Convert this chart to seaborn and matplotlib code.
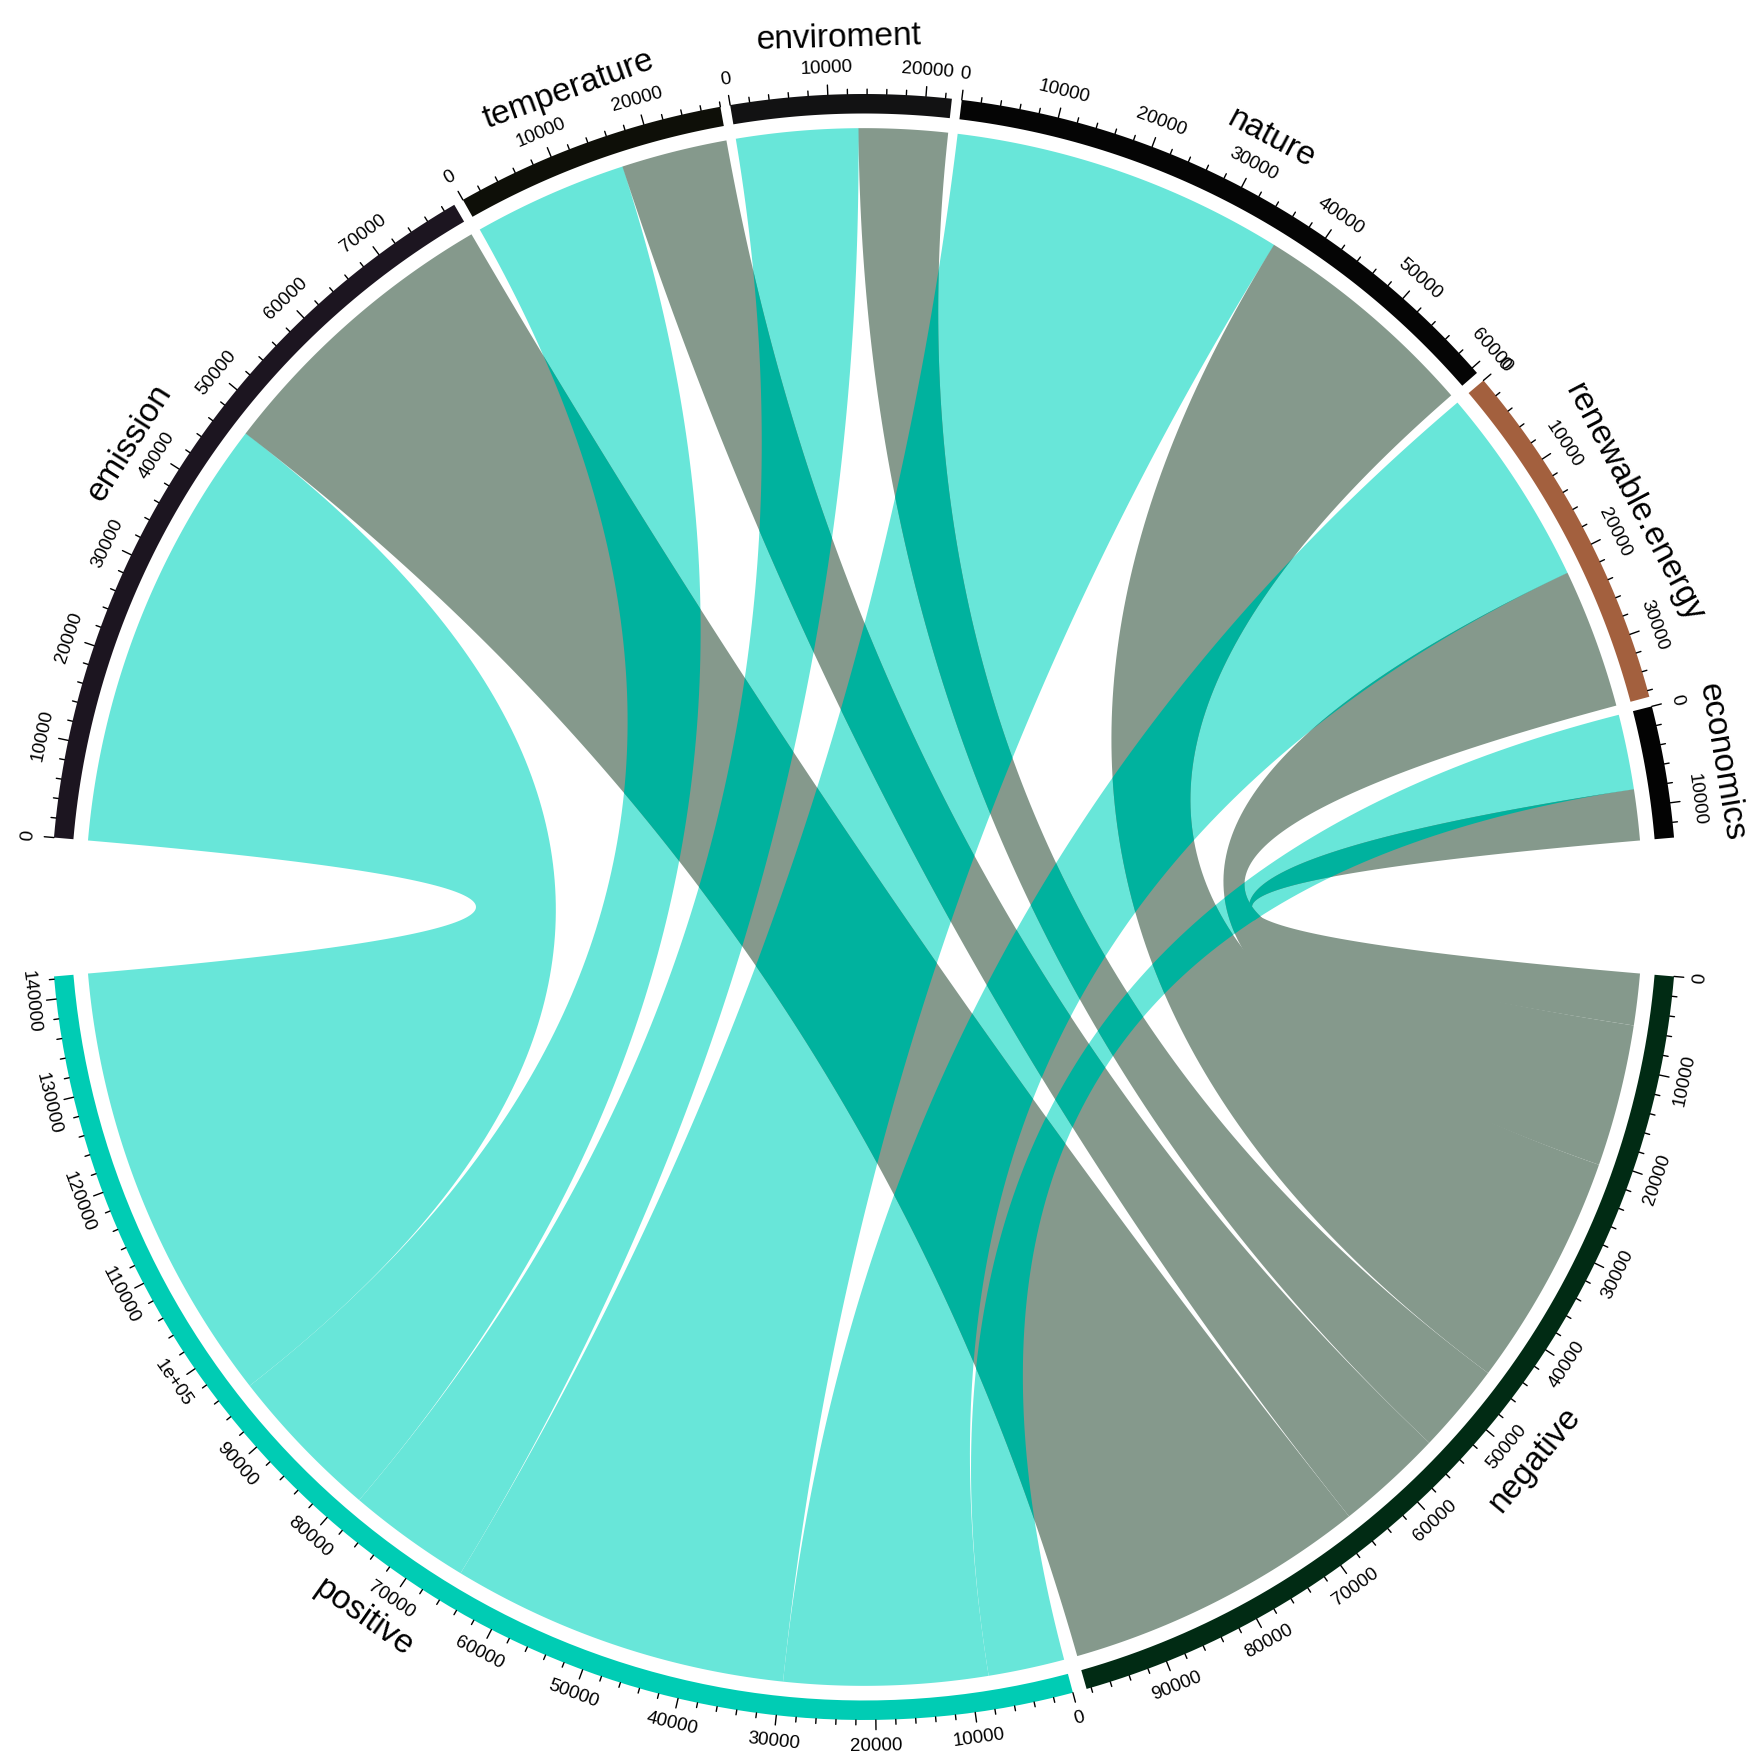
import numpy as np
import matplotlib

matplotlib.use("Agg")
import matplotlib.pyplot as plt
import seaborn as sns
from matplotlib.patches import Polygon

# sectors on the upper half (rows) and their link widths
topics = ["emission", "temperature", "enviroment", "nature", "renewable.energy", "economics"]
positive_vals = [47000, 16600, 13100, 35900, 21600, 8080]
negative_vals = [32200, 11400, 9550, 24800, 15050, 5480]
topic_colors = ["#1C1520", "#0E0F08", "#121213", "#050505", "#A3603E", "#030303"]

# sectors on the lower half
targets = ["negative", "positive"]
target_colors = ["#012B14", "#00CCB4"]

link_pos_color = "#68E6D9"
link_neg_color = "#85998C"
overlap_color = "#00B29E"

sns.set_theme(style="white")
plt.rcParams["font.family"] = ["Liberation Sans", "DejaVu Sans"]

BIG_GAP = 9.8
GAP_TOP = 0.7
GAP_BOT = 1.0
R_OUT, R_IN, R_LINK = 1.0, 0.976, 0.958

total = sum(positive_vals) + sum(negative_vals)
k_top = (180 - BIG_GAP - GAP_TOP * (len(topics) - 1)) / total
k_bot = (180 - BIG_GAP - GAP_BOT) / total


def pt(r, a):
    t = np.deg2rad(a)
    return np.array([r * np.cos(t), r * np.sin(t)])


def arc(r, a0, a1, n=80):
    t = np.deg2rad(np.linspace(a0, a1, n))
    return np.column_stack([r * np.cos(t), r * np.sin(t)])


def bez(p0, p2, n=120):
    t = np.linspace(0, 1, n)[:, None]
    return (1 - t) ** 2 * p0 + t ** 2 * p2


def chord(a1, a2, b1, b2):
    return np.vstack([
        arc(R_LINK, a1, a2),
        bez(pt(R_LINK, a2), pt(R_LINK, b1)),
        arc(R_LINK, b1, b2),
        bez(pt(R_LINK, b2), pt(R_LINK, a1)),
    ])


def tangent_text(ax, a, r, s, size, va="center"):
    t = a % 360
    rot = t - 90 if t < 180 else t + 90
    x, y = pt(r, a)
    ax.text(x, y, s, rotation=rot, rotation_mode="anchor", ha="center",
            va=va, fontsize=size, color="black")


def fmt(v):
    return "1e+05" if v == 100000 else str(int(v))


def draw_sector(ax, start, value, k, color, name):
    end = start - value * k
    ring = np.vstack([arc(R_OUT, start, end), arc(R_IN, end, start)])
    ax.add_patch(Polygon(ring, closed=True, facecolor=color, edgecolor="none", zorder=4))
    for v in np.arange(0, value + 1, 2000):
        a = start - v * k
        major = v % 10000 == 0
        L = 0.012 if major else 0.006
        p0, p1 = pt(R_OUT, a), pt(R_OUT + L, a)
        ax.plot([p0[0], p1[0]], [p0[1], p1[1]], color="black", lw=1.0, zorder=5)
        if major:
            tangent_text(ax, a, 1.032, fmt(v), 13.5)
    tangent_text(ax, (start + end) / 2, 1.069, name, 24)
    return end


fig = plt.figure(figsize=(17.58, 17.64), dpi=100)
ax = fig.add_axes([0, 0, 1, 1])
cx, cy, rad = 864, 907, 813
ax.set_xlim(-cx / rad, (1758 - cx) / rad)
ax.set_ylim((cy - 1764) / rad, cy / rad)
ax.set_aspect("equal")
ax.axis("off")

# upper half sectors
topic_start = []
a = 180 - BIG_GAP / 2
for name, pv, nv, col in zip(topics, positive_vals, negative_vals, topic_colors):
    topic_start.append(a)
    end = draw_sector(ax, a, pv + nv, k_top, col, name)
    a = end - GAP_TOP

# lower half sectors
neg_start = -BIG_GAP / 2
neg_end = draw_sector(ax, neg_start, sum(negative_vals), k_bot, target_colors[0], targets[0])
pos_start = neg_end - GAP_BOT
draw_sector(ax, pos_start, sum(positive_vals), k_bot, target_colors[1], targets[1])

pos_polys, neg_patches = [], []
pos_cursor, neg_cursor = pos_start, neg_start
for i in reversed(range(len(topics))):
    s = topic_start[i]
    pv, nv = positive_vals[i], negative_vals[i]
    # positive link
    a1, a2 = s, s - pv * k_top
    b1, b2 = pos_cursor, pos_cursor - pv * k_bot
    pos_cursor = b2
    verts = chord(a1, a2, b1, b2)
    pos_polys.append(verts)
    ax.add_patch(Polygon(verts, closed=True, facecolor=link_pos_color,
                         edgecolor="none", zorder=1))
    # negative link
    a1, a2 = a2, a2 - nv * k_top
    b1, b2 = neg_cursor, neg_cursor - nv * k_bot
    neg_cursor = b2
    g = Polygon(chord(a1, a2, b1, b2), closed=True, facecolor=link_neg_color,
                edgecolor="none", zorder=2)
    ax.add_patch(g)
    neg_patches.append(g)

# where positive and negative links cross the colour turns darker teal
for g in neg_patches:
    for verts in pos_polys:
        p = Polygon(verts, closed=True, facecolor=overlap_color, edgecolor="none", zorder=3)
        ax.add_patch(p)
        p.set_clip_path(g)

fig.savefig("out.png", dpi=100, facecolor="white")
